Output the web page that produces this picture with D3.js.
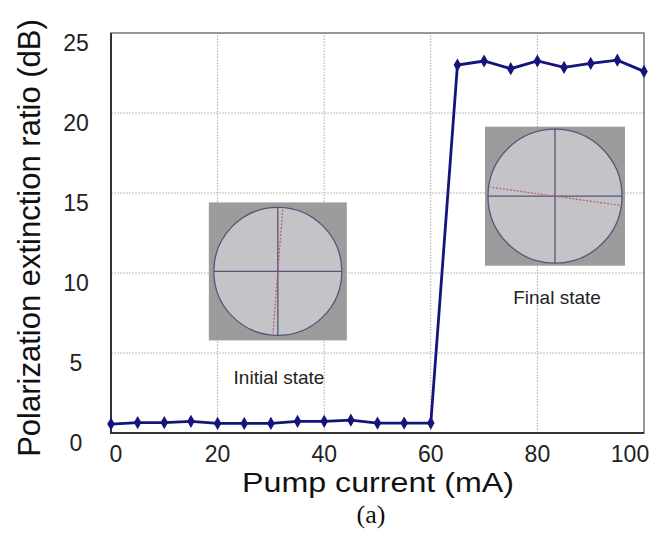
<!DOCTYPE html>
<html><head><meta charset="utf-8">
<script src="https://cdn.jsdelivr.net/npm/d3@7"></script>
<style>body{margin:0;background:#fff}svg{display:block}</style>
</head><body>
<svg id="c" width="653" height="534"></svg>
<script>
const current = [0,5,10,15,20,25,30,35,40,45,50,55,60,65,70,75,80,85,90,95,100];
const extinction = [0.56,0.65,0.65,0.73,0.6,0.6,0.6,0.73,0.73,0.8,0.62,0.62,0.62,23.0,23.25,22.77,23.25,22.85,23.1,23.3,22.6];
const xTicks = [0,20,40,60,80,100];
const yTicks = [0,5,10,15,20,25];
const xLabel = "Pump current (mA)";
const yLabel = "Polarization extinction ratio (dB)";
const caption = "(a)";
const insetLabels = ["Initial state","Final state"];
// polarization insets: [x-center(mA), y-center(dB)] and polarization axis angle (degrees from vertical)
const insetCenters = [[31.3,10.1],[83.3,14.8]];
const insetAngles = [4.5, 98];

const svg = d3.select("#c");
const x = d3.scaleLinear().domain([0,100]).range([111,644]);
const y = d3.scaleLinear().domain([0,25]).range([433,33]);
const SANS = "Liberation Sans, Arial, sans-serif";

// grid
svg.append("g").selectAll("line").data(xTicks.filter(d=>d>0&&d<100)).join("line")
  .attr("x1",d=>x(d)).attr("x2",d=>x(d)).attr("y1",y(0)).attr("y2",y(25))
  .attr("stroke","#aaa").attr("stroke-width",1).attr("stroke-dasharray","1.5,1.5");
svg.append("g").selectAll("line").data(yTicks.filter(d=>d>0&&d<25)).join("line")
  .attr("x1",x(0)).attr("x2",x(100)).attr("y1",d=>y(d)).attr("y2",d=>y(d))
  .attr("stroke","#bbb").attr("stroke-width",1).attr("stroke-dasharray","2,1");

// frame
svg.append("rect").attr("x",x(0)).attr("y",y(25)).attr("width",x(100)-x(0)).attr("height",y(0)-y(25))
  .attr("fill","none").attr("stroke","#777").attr("stroke-width",1.5);
svg.append("path").attr("d",`M${x(0)},${y(25)}V${y(0)}H${x(100)}`).attr("fill","none").attr("stroke","#333").attr("stroke-width",2);

// insets
const sizes = [[138,138,64],[140,139,67]];
insetCenters.forEach((c,i)=>{
  const cx = x(c[0]), cy = y(c[1]);
  const [w,h,r] = sizes[i];
  const g = svg.append("g");
  g.append("rect").attr("x",cx-w/2).attr("y",cy-h/2).attr("width",w).attr("height",h).attr("fill","#9c9c9c");
  g.append("circle").attr("cx",cx).attr("cy",cy).attr("r",r).attr("fill","#c3c3c8").attr("stroke","#55557a").attr("stroke-width",1.3);
  g.append("line").attr("x1",cx-r).attr("x2",cx+r).attr("y1",cy).attr("y2",cy).attr("stroke","#55557a").attr("stroke-width",1.3);
  g.append("line").attr("x1",cx).attr("x2",cx).attr("y1",cy-r).attr("y2",cy+r).attr("stroke","#55557a").attr("stroke-width",1.3);
  const a = insetAngles[i]*Math.PI/180, rr = r-2;
  g.append("line").attr("x1",cx+rr*Math.sin(a)).attr("y1",cy-rr*Math.cos(a))
    .attr("x2",cx-rr*Math.sin(a)).attr("y2",cy+rr*Math.cos(a))
    .attr("stroke","#b06070").attr("stroke-width",1.2).attr("stroke-dasharray","2,1.5");
});
svg.append("text").attr("x",279).attr("y",384).attr("text-anchor","middle")
  .attr("font-family",SANS).attr("font-size",19).attr("fill","#222").text(insetLabels[0]);
svg.append("text").attr("x",557).attr("y",304).attr("text-anchor","middle")
  .attr("font-family",SANS).attr("font-size",19).attr("fill","#222").text(insetLabels[1]);

// data line
const pts = current.map((c,i)=>[c,extinction[i]]);
svg.append("path").datum(pts).attr("d",d3.line().x(d=>x(d[0])).y(d=>y(d[1])))
  .attr("fill","none").attr("stroke","#14147a").attr("stroke-width",2.8);
svg.append("g").selectAll("path").data(pts).join("path")
  .attr("transform",d=>`translate(${x(d[0])},${y(d[1])})`)
  .attr("d",d3.symbol(d3.symbolDiamond,50)).attr("fill","#14147a");

// tick labels
svg.append("g").selectAll("text").data(xTicks).join("text")
  .attr("x",d=>x(d)+(d===100?-14:d===0?5:0)).attr("y",462).attr("text-anchor","middle")
  .attr("font-family",SANS).attr("font-size",23).attr("fill","#222").text(d=>d);
svg.append("g").selectAll("text").data(yTicks).join("text")
  .attr("x",76).attr("y",d=>y(d)+18).attr("text-anchor","middle")
  .attr("font-family",SANS).attr("font-size",23).attr("fill","#222").text(d=>d);

// axis titles
svg.append("text").attr("transform","translate(378,492) scale(1.15,1)").attr("text-anchor","middle")
  .attr("font-family",SANS).attr("font-size",28).attr("fill","#111").text(xLabel);
svg.append("text").attr("transform","translate(40,238) rotate(-90)").attr("text-anchor","middle")
  .attr("font-family",SANS).attr("font-size",31).attr("fill","#111").text(yLabel);
svg.append("text").attr("x",371).attr("y",523).attr("text-anchor","middle")
  .attr("font-family","Liberation Serif, Times New Roman, serif").attr("font-size",26).attr("fill","#111").text(caption);
</script>
</body></html>
